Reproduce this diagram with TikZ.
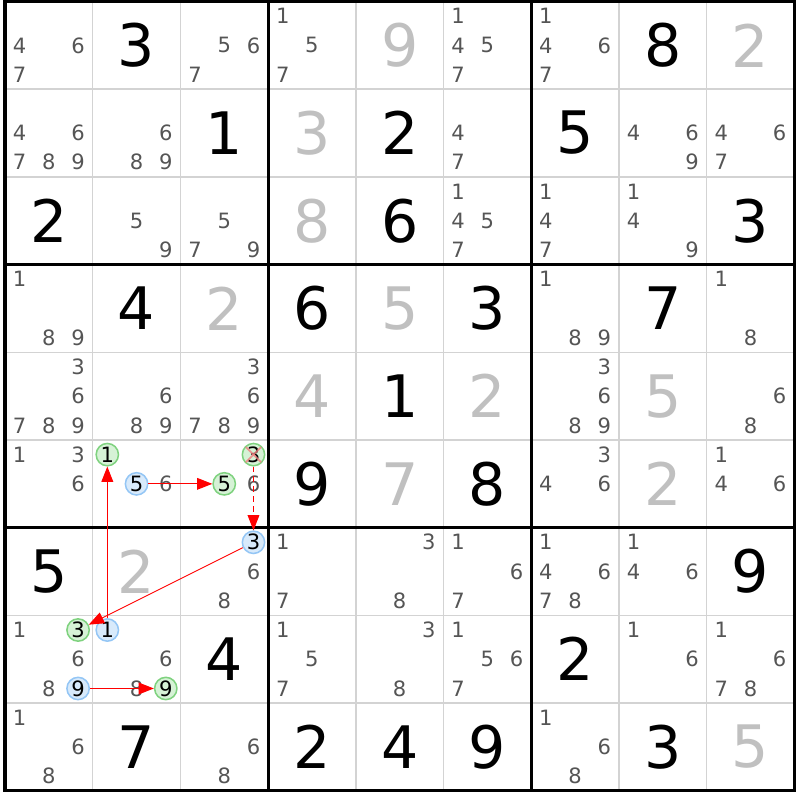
\documentclass[tikz,border=0pt]{standalone}
\usepackage{fontspec}
\setsansfont{DejaVu Sans}
\RequirePackage{xcolor}
\tikzset{every picture/.style={/utils/exec={\sffamily}}}
\usetikzlibrary{arrows.meta}
\definecolor{gridgray}{HTML}{D3D3D3}
\definecolor{solvedgray}{HTML}{C0C0C0}
\definecolor{candgray}{HTML}{555555}
\definecolor{greenfill}{HTML}{D6F2D6}
\definecolor{greenline}{HTML}{7FD27F}
\definecolor{bluefill}{HTML}{D8EAFB}
\definecolor{blueline}{HTML}{94C6F5}
\definecolor{crossred}{HTML}{F08080}
\tikzset{thinline/.style={draw=gridgray, line width=1.2pt},
         boxline/.style={draw=black, line width=2.6pt},
         clue/.style={ % Digits given in the puzzle
           font=\fontsize{50}{50}\selectfont, text=black, inner sep=0pt},
         solved/.style={clue, text=solvedgray},
         cand/.style={ % Pencil marks
           font=\fontsize{18}{18}\selectfont, text=candgray, inner sep=0pt},
         linkon/.style={cand, circle, text=black, draw=greenline,
           fill=greenfill, line width=1.3pt, minimum size=0.67cm},
         linkoff/.style={linkon, draw=blueline, fill=bluefill},
         link/.style={draw=red, line width=0.85pt,
           -{Triangle[length=13pt,width=10pt]}},
         cross/.style={draw=crossred, line width=1.6pt, opacity=0.8,
           shorten >=1pt, shorten <=1pt}}
% column, row, digit
\newcommand{\clue}[3]{\node[clue] (d#2#1) at (#1-0.5,#2-0.5) {#3};}
\newcommand{\solved}[3]{\node[solved] (d#2#1) at (#1-0.5,#2-0.5) {#3};}
% column, row, list of pencil marks
\newcommand{\cands}[3]{\foreach \k in {#3} {
    \node[cand] (n#2#1\k) at ({#1-1+(mod(\k-1,3)+0.5)/3},{#2-1+(floor((\k-1)/3)+0.5)/3}) {\k};}}
% style, name, column, row, digit
\newcommand{\chaincand}[5]{
  \node[#1] (#2) at ({#3-1+(mod(#5-1,3)+0.5)/3},{#4-1+(floor((#5-1)/3)+0.5)/3}) {#5};}

\begin{document}
\begin{tikzpicture}[x=2.631cm, y=-2.631cm]
  \useasboundingbox (-0.057,-0.017) rectangle (9.065,9.105);

  \foreach \i in {1,2,4,5,7,8} {
    \draw[thinline] (\i,0) -- (\i,9);
    \draw[thinline] (0,\i) -- (9,\i);
  }
  \foreach \i in {3,6} {
    \draw[boxline] (\i,0) -- (\i,9);
    \draw[boxline] (0,\i) -- (9,\i);
  }
  \draw[boxline] (0,0) rectangle (9,9);

  % row 1
  \cands{1}{1}{4,6,7} \clue{2}{1}{3} \cands{3}{1}{5,6,7}
  \cands{4}{1}{1,5,7} \solved{5}{1}{9} \cands{6}{1}{1,4,5,7}
  \cands{7}{1}{1,4,6,7} \clue{8}{1}{8} \solved{9}{1}{2}
  % row 2
  \cands{1}{2}{4,6,7,8,9} \cands{2}{2}{6,8,9} \clue{3}{2}{1}
  \solved{4}{2}{3} \clue{5}{2}{2} \cands{6}{2}{4,7}
  \clue{7}{2}{5} \cands{8}{2}{4,6,9} \cands{9}{2}{4,6,7}
  % row 3
  \clue{1}{3}{2} \cands{2}{3}{5,9} \cands{3}{3}{5,7,9}
  \solved{4}{3}{8} \clue{5}{3}{6} \cands{6}{3}{1,4,5,7}
  \cands{7}{3}{1,4,7} \cands{8}{3}{1,4,9} \clue{9}{3}{3}
  % row 4
  \cands{1}{4}{1,8,9} \clue{2}{4}{4} \solved{3}{4}{2}
  \clue{4}{4}{6} \solved{5}{4}{5} \clue{6}{4}{3}
  \cands{7}{4}{1,8,9} \clue{8}{4}{7} \cands{9}{4}{1,8}
  % row 5
  \cands{1}{5}{3,6,7,8,9} \cands{2}{5}{6,8,9} \cands{3}{5}{3,6,7,8,9}
  \solved{4}{5}{4} \clue{5}{5}{1} \solved{6}{5}{2}
  \cands{7}{5}{3,6,8,9} \solved{8}{5}{5} \cands{9}{5}{6,8}
  % row 6
  \cands{1}{6}{1,3,6} \cands{2}{6}{6} \cands{3}{6}{6}
  \clue{4}{6}{9} \solved{5}{6}{7} \clue{6}{6}{8}
  \cands{7}{6}{3,4,6} \solved{8}{6}{2} \cands{9}{6}{1,4,6}
  % row 7
  \clue{1}{7}{5} \solved{2}{7}{2} \cands{3}{7}{6,8}
  \cands{4}{7}{1,7} \cands{5}{7}{3,8} \cands{6}{7}{1,6,7}
  \cands{7}{7}{1,4,6,7,8} \cands{8}{7}{1,4,6} \clue{9}{7}{9}
  % row 8
  \cands{1}{8}{1,6,8} \cands{2}{8}{6,8} \clue{3}{8}{4}
  \cands{4}{8}{1,5,7} \cands{5}{8}{3,8} \cands{6}{8}{1,5,6,7}
  \clue{7}{8}{2} \cands{8}{8}{1,6} \cands{9}{8}{1,6,7,8}
  % row 9
  \cands{1}{9}{1,6,8} \clue{2}{9}{7} \cands{3}{9}{6,8}
  \clue{4}{9}{2} \clue{5}{9}{4} \clue{6}{9}{9}
  \cands{7}{9}{1,6,8} \clue{8}{9}{3} \solved{9}{9}{5}

  % chain
  \chaincand{linkon}{green1}{2}{6}{1}
  \chaincand{linkoff}{blue5}{2}{6}{5}
  \chaincand{linkon}{green5}{3}{6}{5}
  \chaincand{linkon}{green3x}{3}{6}{3}
  \chaincand{linkoff}{blue3}{3}{7}{3}
  \chaincand{linkon}{green3}{1}{8}{3}
  \chaincand{linkoff}{blue9}{1}{8}{9}
  \chaincand{linkoff}{blue1}{2}{8}{1}
  \chaincand{linkon}{green9}{2}{8}{9}

  \draw[cross] (green3x.north west) -- (green3x.south east);
  \draw[cross] (green3x.north east) -- (green3x.south west);

  \draw[link] (blue5) -- (green5);
  \draw[link, dash pattern=on 5pt off 3.5pt] (green3x) -- (blue3);
  \draw[link] (blue3) -- (green3);
  \draw[link] (blue1) -- (green1);
  \draw[link] (blue9) -- (green9);
\end{tikzpicture}
\end{document}
